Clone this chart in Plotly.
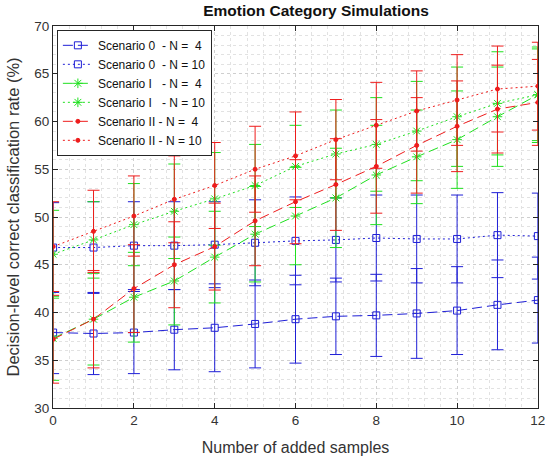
import plotly.graph_objects as go

# ---- data ----
added_samples = list(range(13))
x_ticks = [0, 2, 4, 6, 8, 10, 12]
y_ticks = [30, 35, 40, 45, 50, 55, 60, 65, 70]

s0_n4 = [37.9, 37.8, 37.9, 38.2, 38.4, 38.8, 39.3, 39.6, 39.7, 39.9, 40.2, 40.8, 41.3]
s0_n4_err = [4.3, 4.3, 4.3, 4.2, 4.6, 4.6, 4.6, 4.0, 4.3, 4.7, 4.6, 4.7, 4.5]

s0_n10 = [46.8, 46.8, 47.0, 47.0, 47.1, 47.3, 47.5, 47.6, 47.8, 47.7, 47.7, 48.1, 48.0]
s0_n10_err = [4.7, 4.8, 4.6, 4.6, 4.5, 4.5, 4.6, 4.4, 4.5, 4.6, 4.6, 4.45, 4.5]

s1_n4 = [37.3, 39.3, 41.6, 43.3, 45.8, 48.2, 50.1, 52.0, 54.4, 56.3, 58.1, 60.5, 62.8]
s1_n4_err = [4.4, 4.8, 4.7, 4.6, 4.8, 5.0, 5.1, 5.2, 5.2, 4.9, 5.1, 5.2, 5.0]

s1_n10 = [46.1, 47.6, 49.2, 50.6, 51.9, 53.3, 55.3, 56.6, 57.6, 59.0, 60.5, 61.9, 62.8]
s1_n10_err = [4.6, 4.0, 4.3, 4.95, 4.85, 4.3, 4.3, 4.6, 4.9, 5.2, 5.2, 5.4, 4.8]

s2_n4 = [37.2, 39.3, 42.5, 45.0, 46.9, 49.6, 51.6, 53.4, 55.3, 57.5, 59.5, 61.3, 62.0]
s2_n4_err = [4.6, 5.1, 4.6, 4.5, 4.55, 4.7, 4.4, 4.8, 4.9, 5.0, 4.75, 4.6, 4.5]

s2_n10 = [46.9, 48.5, 50.1, 51.85, 53.3, 55.0, 56.4, 58.1, 59.6, 61.1, 62.25, 63.4, 63.7]
s2_n10_err = [4.7, 4.3, 4.2, 4.55, 4.5, 4.5, 4.6, 4.2, 4.5, 4.2, 4.75, 4.5, 4.6]

series_names = [
    "Scenario 0\u00a0\u00a0- N = \u00a04",
    "Scenario 0\u00a0\u00a0- N = 10",
    "Scenario I\u00a0\u00a0\u00a0- N = \u00a04",
    "Scenario I\u00a0\u00a0\u00a0- N = 10",
    "Scenario II\u00a0- N = \u00a04",
    "Scenario II\u00a0- N = 10",
]

# ---- styles ----
BLUE = "#1f1fd6"
GREEN = "#1fe01f"
RED = "#ee1c1c"
DASH = "10px,5px"
DOT = "2px,3px"

series = [
    (s0_n4, s0_n4_err, BLUE, DASH, dict(symbol="square-open", size=7)),
    (s0_n10, s0_n10_err, BLUE, DOT, dict(symbol="square-open", size=7)),
    (s1_n4, s1_n4_err, GREEN, DASH, dict(symbol="asterisk-open", size=8)),
    (s1_n10, s1_n10_err, GREEN, DOT, dict(symbol="asterisk-open", size=8)),
    (s2_n4, s2_n4_err, RED, DASH, dict(symbol="circle", size=4)),
    (s2_n10, s2_n10_err, RED, DOT, dict(symbol="circle", size=4)),
]

fig = go.Figure()
for name, (vals, errs, color, dash, mk) in zip(series_names, series):
    fig.add_trace(go.Scatter(
        x=added_samples, y=vals, name=name, mode="lines+markers",
        line=dict(color=color, width=1, dash=dash),
        marker=dict(symbol=mk["symbol"], size=mk["size"], color=color,
                    line=dict(color=color, width=1)),
        error_y=dict(type="data", array=errs, symmetric=True,
                     color=color, thickness=1, width=6),
    ))

FONT = "Liberation Sans, Arial, Helvetica, sans-serif"
AX = "#262626"

fig.update_layout(
    width=545, height=462,
    margin=dict(l=53, r=7, t=26, b=54),
    paper_bgcolor="white", plot_bgcolor="white",
    font=dict(family=FONT, color=AX, size=13),
    title=dict(text="<b>Emotion Category Simulations</b>", font=dict(size=15.5, color="#111"),
               x=295.5 / 545, xanchor="center", xref="paper",
               y=1 - 11 / 462, yref="container", yanchor="middle"),
    showlegend=True,
    legend=dict(x=0.008, y=0.99, xanchor="left", yanchor="top",
                bgcolor="white", bordercolor=AX, borderwidth=1,
                font=dict(size=12, family=FONT, color="#111"),
                itemwidth=30, tracegroupgap=0),
)

fig.update_xaxes(
    range=[-0.003, 12.003], tickvals=x_ticks, ticks="inside", ticklen=5, tickcolor=AX,
    showline=True, linecolor=AX, linewidth=1, mirror="ticks", automargin=False,
    ticklabeloverflow="allow",
    showgrid=True, gridcolor="#cfcfcf", griddash="dot", gridwidth=1,
    zeroline=False, tickfont=dict(size=13.5, color="#333"),
    minor=dict(tick0=0, dtick=0.4, showgrid=True, gridcolor="#e2e2e2", griddash="dot", ticks=""),
    title=dict(text="Number of added samples", font=dict(size=16, color="#333"), standoff=14),
)
fig.update_yaxes(
    range=[30, 70], tickvals=y_ticks, ticks="inside", ticklen=5, tickcolor=AX,
    showline=True, linecolor=AX, linewidth=1, mirror="ticks", automargin=False,
    ticklabeloverflow="allow",
    showgrid=True, gridcolor="#cfcfcf", griddash="dot", gridwidth=1,
    zeroline=False, tickfont=dict(size=13.5, color="#333"),
    minor=dict(tick0=30, dtick=1, showgrid=True, gridcolor="#e2e2e2", griddash="dot", ticks=""),
    title=dict(text="Decision-level correct classification rate (%)", font=dict(size=16.5, color="#333"), standoff=10),
)

fig.write_html("out.html", config={"displayModeBar": False},
               post_script="document.body.style.margin='0';")
